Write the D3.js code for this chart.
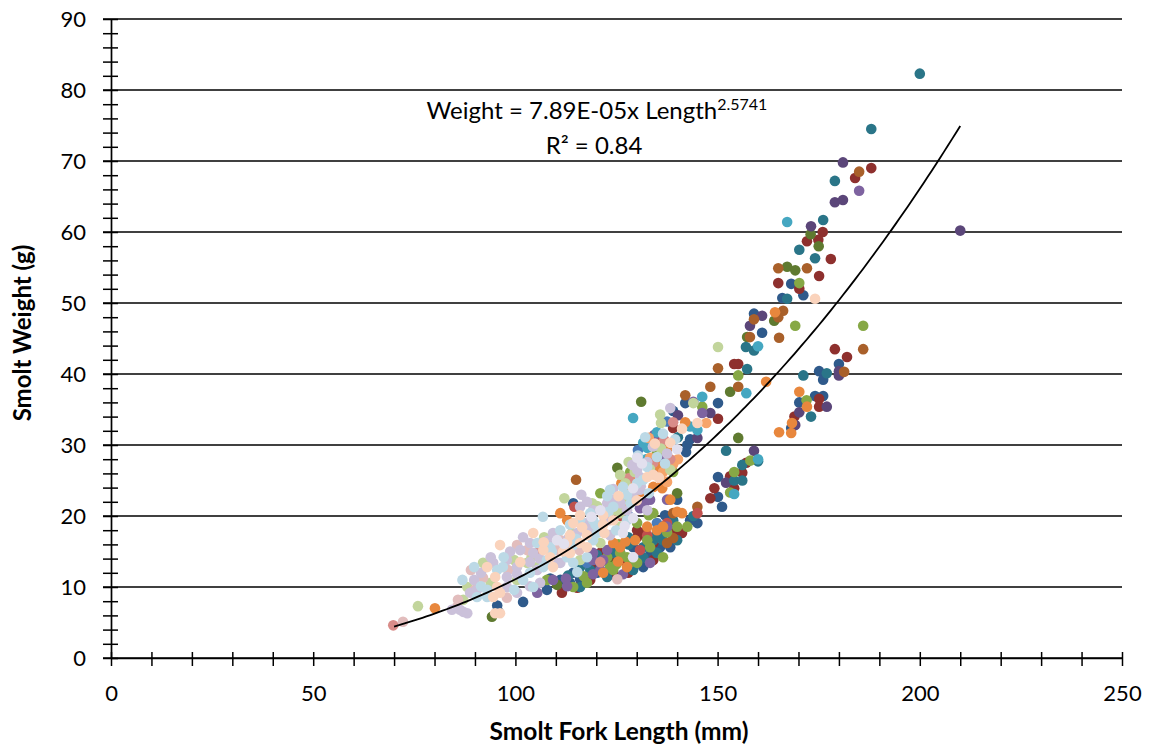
<!DOCTYPE html>
<html><head><meta charset="utf-8">
<script src="https://cdn.jsdelivr.net/npm/d3@7"></script>
<style>
body{margin:0;background:#fff}
svg{display:block}
text{font-family:Lato,"Liberation Sans",sans-serif;fill:#000}
</style>
</head><body>
<svg id="chart" width="1149" height="746"></svg>
<script>
// ---------- data ----------
const xTickLabels=[0,50,100,150,200,250];
const yTickLabels=[0,10,20,30,40,50,60,70,80,90];
const trendCoef=7.89e-5, trendExp=2.5741, trendFrom=70, trendTo=210;
const equationText="Weight = 7.89E-05x Length", equationExp="2.5741", r2Text="R² = 0.84";

const navy=[[168.2,52.7],[171.2,51.1],[166,50.7],[159,48.5],[161,45.8],[180,41.4],[175.1,40.4],[176.1,39.2],[150.1,35.9],[170.2,36],[174.1,36.9],[176.1,36.9],[168.2,32.4],[142,35.9],[139,34.8],[142.5,30],[143.2,30.8],[140,22.3],[145,19],[150.1,25.5],[150.1,22.7],[151.1,21.3],[142.2,29],[114.3,21.8],[137,20.1],[124.2,15.6],[121,13.4],[111.1,11],[101.9,7.9],[95.8,6.5],[95.5,7.4],[108.6,11.2],[107.8,9.6],[123.4,15.2],[114.3,12],[120.2,12],[120.2,12.8],[125.9,14.8],[135.8,15.6],[113.5,10.6],[131.6,12.8],[138.3,15.6],[143.2,19.4],[129.1,15.6],[133.3,14.5],[116,11.1]];
const darkRed=[[188,69],[184,67.6],[176,60],[172.1,58.7],[174.9,58.9],[178,56.2],[175.1,53.8],[165,52.8],[170.2,52],[179,43.5],[182,42.4],[155.1,41.4],[154.1,41.4],[175.1,36.5],[175.1,35.4],[169,34],[150.1,33.7],[139,32.4],[157.1,27.5],[156.1,26.1],[153.1,25.6],[154.1,23.9],[149.2,23.9],[148.2,22.5],[139,17.6],[134.1,16.2],[130.1,17],[121,14.8],[124.2,14.2],[127.6,13.5],[111.5,9.2],[130.1,18],[131.6,17.6],[127.9,12],[132.6,17],[134.1,13.8],[126.6,13.8],[118.5,11],[115.3,9.9],[124.2,11.8],[141.2,17.6],[118.5,13]];
const darkGreen=[[173,59.7],[175,58],[167.2,55.1],[169.2,54.6],[164,47.5],[157.3,45.2],[153.1,37.5],[131.1,36.1],[155.1,31],[125.2,26.8],[140,23.2],[122.7,13.8],[94.2,5.8],[110.3,10.3]];
const darkPurple=[[210,60.2],[181,69.8],[179,64.2],[181,64.5],[173.1,60.8],[161,48.2],[158,46.8],[180,40.4],[180,39.8],[177,35.4],[170.2,34.6],[169.2,32.8],[140.2,34.2],[148.2,34.5],[145,31],[159,29.2],[152.1,24.7]];
const teal=[[200,82.3],[188,74.5],[179,67.2],[176.1,61.7],[170.2,57.5],[174.1,56.3],[167.2,50.6],[157,43.8],[159,43.3],[171.2,39.8],[177,40.1],[157.3,40.7],[173.1,34],[140.2,31.1],[144,20],[152.1,29.2],[160,27.7],[156.1,27.2],[154.1,25],[156.1,25],[135,17.6],[136.5,16.6],[128,16],[118.5,12.4],[113,11.6],[127.9,17],[116,12.8],[131.6,14.2],[134.1,16.6],[135.8,17],[139,19.4],[135,14.8],[116,10],[124.2,14.8],[122.7,11.4],[129.1,12.4],[140,16.6],[131.6,15.6],[120.2,14.5]];
const brown=[[186,43.5],[185,68.5],[165,54.9],[172.1,54.9],[166.2,48.9],[165,48],[159,47.7],[165.2,45.1],[158,45.2],[181.3,40.3],[150.1,40.8],[148.2,38.2],[155.1,38.2],[142,37],[115,25.1],[145,21.3],[139,20.4],[139,16.9],[137.5,16.2]];
const blue=[[130.3,29.3],[135,19],[117.7,13.4],[137.5,33.3],[133.8,26],[128,20]];
const red=[[135.8,30.8],[145,20.4],[137.5,30],[135,26.5],[114.6,21.3],[132.6,17.3],[137.5,19],[130.8,15.2],[126,20]];
const green=[[186,46.8],[170.2,52.8],[169.2,46.8],[155.1,39.8],[172,36.3],[146.2,35.4],[139,26.2],[121,23.2],[133,20.1],[158.1,27.8],[154.1,26.2],[153.1,23.3],[135,29],[134.1,20.4],[130.1,19],[140,18.5],[137.5,17.7],[132.6,16.6],[125.9,14.8],[127.6,14.2],[123.4,12.8],[116.9,11.5],[107.8,11],[125.5,16],[122.7,14.2],[114.3,10],[130.1,13.4],[133.3,15.6],[125,13.2],[124.2,12.4],[117.7,10.6],[136.5,14.2],[142.5,18.5],[128.4,13.5],[128.4,26.2],[131.5,27.5]];
const purple=[[185,65.8],[146.2,34.5],[134.3,31.4],[144,36.1],[136.5,27.9],[137.5,22.3],[130.8,21.1],[131.8,21.8],[133.3,22.3],[137.5,18.5],[122.7,15.2],[119.2,14.8],[119.2,13.8],[121,12.4],[109.3,11],[105.4,9.2],[121.7,13.8],[118.5,14.2],[112.5,11.2],[119.2,11.8],[126.6,11.8],[133.3,13.4],[112.8,10.1],[129.7,23.2]];
const aqua=[[167.2,61.4],[160,43.9],[157.1,37.3],[146.2,36.8],[129.1,33.8],[145,32.1],[135,31.8],[160,28],[154.1,23.1],[132.6,29.6],[143.2,32.6],[131.6,30.3],[132.3,28],[127.4,22.1]];
const orange=[[164.2,48.7],[162,38.9],[170.2,37.5],[172.1,35.4],[165.2,31.8],[168.2,31.7],[168.4,33.1],[142,33.2],[135.8,26.9],[129.6,24.8],[140,20.6],[141.2,20.4],[137.5,29.3],[129.1,25.1],[136.3,24.8],[134.1,24.1],[136.3,23.9],[138.3,22.3],[111.1,20.4],[112.8,19.4],[132.6,18.5],[129.6,16.6],[125.9,15.6],[124.2,16.2],[127.2,16.4],[80.1,7],[125.4,13.6],[135,18],[136.5,18.5],[121.7,12],[127.6,12.8],[126.2,24.6],[131,23.4]];
const lightOrange=[[147.2,33.1],[128.4,24.1],[140.2,28],[139,27.3],[126.6,21.4],[133.3,28.2],[136.5,26.2],[133,31],[137.5,24.8]];
const salmon=[[139,33.2],[136.8,30.7],[138.3,28],[134.1,27.5],[105.4,14.8],[121,13.5],[69.8,4.6],[128,25.3]];
const lightGreen=[[150.1,43.8],[144,35.9],[136,33.1],[128,27.6],[125.9,25.8],[127.2,24.6],[112.1,22.5],[138.3,26.5],[126.6,22.3],[125.9,20.4],[122.7,19.9],[125.9,18.5],[99.7,13.8],[105.4,12.8],[116,13.8],[93.9,10.6],[87.1,8.2],[88.1,10],[75.9,7.3],[102.9,13.4],[121,16.2],[107.1,17],[92,13.4],[100.4,11],[120.2,21.4],[133.3,26.6],[135.8,34.3],[104,14.2],[114,17.6],[119,21.8],[124,20.8],[129.5,26.2],[136,29.5]];
const pink=[[85.8,8.2],[90,9.6],[72.2,5.1],[110.3,15.2],[102.9,15.2],[111.1,16.6],[92,11.3],[97.9,8.5],[85.6,7.2],[125.2,11.1],[100.4,15.9],[89,12.4],[98.2,12.4],[115.8,15.2],[123.2,19.4]];
const lilac=[[130.8,25.5],[116.3,23],[132.6,27.6],[130.1,26.5],[130.8,23.7],[124.2,22.3],[129.1,22.7],[116,21.3],[117.7,22],[119.2,20.8],[122.7,21.8],[127.6,20.8],[132.6,20.8],[117.7,19],[112.8,15.6],[104.4,14.8],[101.2,15.2],[97.9,13.8],[103.6,13.5],[111.1,13.4],[106.1,10.6],[103.6,10.1],[100.4,11.8],[97.9,11.4],[94.5,13.4],[91.5,12],[89.8,11],[97.9,10],[88.8,9.2],[86.3,6.8],[87.1,6.5],[100.4,12.8],[105.4,12.4],[90.5,9.6],[100.4,9.2],[84.3,6.8],[88.1,6.3],[118.5,18.5],[123.4,17.3],[115.3,17.6],[109.3,17.6],[103.6,16.2],[98.7,15],[93.9,14.2],[110.3,13.4],[101.9,17],[124.2,23.8],[137.5,28.8],[138.3,35.2],[106,14],[108,16.5],[113,16.8],[118,17.8],[122,19.2],[126,21.8],[131,24.2],[134,29.8],[128.9,27.2]];
const lightBlue=[[132.1,31.1],[130.3,28.5],[132.6,26.9],[123.4,23.7],[126.6,24.1],[130.1,24.6],[124.2,21.3],[116,19.4],[119.2,19.4],[127.6,19.4],[107.8,13.8],[112.8,14.2],[114.3,13.4],[117.7,14.2],[115.3,12.1],[101.9,11],[96.9,12.8],[91.5,10.1],[99.7,9.6],[90.5,8.6],[106.8,19.9],[108.6,15.6],[106.9,12.8],[93,9.6],[104.4,10],[93,8.6],[120.2,17.6],[124.9,18],[119.2,16.6],[111.1,18],[105.4,16.2],[114.3,15.9],[97.1,14.2],[86.9,11],[89.8,12.8],[95.5,12.4],[103.6,12],[122.7,22.8],[127.6,23],[131.6,25.1],[135,28.3],[136.5,31.6],[118.5,20.4],[113.5,18.8],[109,15],[115,16.8],[119.8,18.8],[123,20.6],[128.5,21.8],[133,23.2],[137,27.4],[139.5,30.8]];
const peach=[[145,33.1],[134.1,25.8],[135.5,25.4],[132.6,25.5],[114.3,19],[124.2,19.4],[117.7,15.6],[116,16.2],[106.9,15.2],[96.2,15.9],[101.2,13.5],[109.3,12.8],[93,12.8],[95.5,10],[96.2,9.2],[94.5,8.6],[95,6.3],[96.2,6.3],[112.8,16.3],[95,11.4],[174.1,50.6],[121.7,18.8],[113.5,17.3],[117.7,17.3],[108.6,14.2],[113.5,14.8],[104.4,17.6],[138.3,30.3],[141.2,32.3],[121.7,20.1],[116,20.1],[107,16.3],[111.8,15],[116.5,18.4],[122,17.6],[125.5,22.8],[130,22.2],[134.5,30.2]];
const whiteLilac=[[140,29.4],[130.1,28.2],[121,20.8],[129.1,19.7],[129.1,14.2],[126.6,17.6],[110.3,16.6],[129.1,23.9],[112,16.1],[118.8,19.9],[127,18.6],[131.3,27.4]];

// draw order & colours
const seriesList=[
 {pts:navy,color:"#2F5A8B"},{pts:darkRed,color:"#8E302E"},{pts:darkGreen,color:"#5F7A30"},
 {pts:darkPurple,color:"#5B4679"},{pts:teal,color:"#2A7588"},{pts:brown,color:"#A9602A"},
 {pts:blue,color:"#4A7CBA"},{pts:red,color:"#C0504D"},{pts:green,color:"#86A845"},
 {pts:purple,color:"#7E63A0"},{pts:aqua,color:"#45A7C1"},{pts:orange,color:"#E8873D"},
 {pts:lightOrange,color:"#F6A46A"},{pts:salmon,color:"#D98C89"},{pts:lightGreen,color:"#C2D59C"},
 {pts:pink,color:"#E2BDBD"},{pts:lilac,color:"#CBC1DA"},{pts:lightBlue,color:"#BCD9E6"},
 {pts:peach,color:"#FAD3BC"},{pts:whiteLilac,color:"#E2E0EE"}
];

// ---------- chart ----------
const svg=d3.select("#chart");
const x=d3.scaleLinear().domain([0,250]).range([111,1122]);
const y=d3.scaleLinear().domain([0,90]).range([658,19]);

// gridlines
svg.append("g").selectAll("line").data(yTickLabels).join("line")
  .attr("x1",103).attr("x2",1122).attr("y1",d=>y(d)).attr("y2",d=>y(d))
  .attr("stroke","#000").attr("stroke-width",1.7);

// x axis
const xAxis=svg.append("g").attr("transform","translate(0,658)")
  .call(d3.axisBottom(x).tickValues(d3.range(0,251,10)).tickSize(8).tickSizeOuter(0)
     .tickFormat(d=>xTickLabels.includes(d)?d:""));
xAxis.select(".domain").attr("stroke","#000").attr("stroke-width",1.7);
xAxis.selectAll(".tick line").attr("y1",-6).attr("y2",8).attr("stroke","#000").attr("stroke-width",1.5);
xAxis.selectAll(".tick text").attr("y",43).attr("dy",0).style("font-size","22px").style("font-family","Lato");

// y axis
const yAxis=svg.append("g").attr("transform","translate(111,0)")
  .call(d3.axisLeft(y).tickValues(d3.range(0,91,2)).tickSize(8).tickSizeOuter(0)
     .tickFormat(d=>yTickLabels.includes(d)?d:""));
yAxis.select(".domain").attr("stroke","#000").attr("stroke-width",1.7);
yAxis.selectAll(".tick line").attr("x1",7).attr("x2",-8).attr("stroke","#000").attr("stroke-width",1.5);
yAxis.selectAll(".tick text").attr("x",-25).attr("dy","0.36em").style("font-size","22px").style("font-family","Lato");

// points
const dots=svg.append("g");
seriesList.forEach(s=>{
  dots.append("g").selectAll("circle").data(s.pts).join("circle")
    .attr("cx",d=>x(d[0])).attr("cy",d=>y(d[1])).attr("r",5.3).attr("fill",s.color);
});

// trendline
const trendX=d3.range(trendFrom,trendTo+0.001,1);
svg.append("path").datum(trendX)
  .attr("d",d3.line().x(d=>x(d)).y(d=>y(trendCoef*Math.pow(d,trendExp))))
  .attr("fill","none").attr("stroke","#000").attr("stroke-width",1.8);

// equation
const eq=svg.append("text").attr("x",597).attr("y",119).attr("text-anchor","middle").style("font-size","24px");
eq.append("tspan").text(equationText);
eq.append("tspan").attr("dy",-9).style("font-size","16px").text(equationExp);
svg.append("text").attr("x",594).attr("y",154).attr("text-anchor","middle").style("font-size","24px").text(r2Text);

// axis titles
svg.append("text").attr("x",619).attr("y",740).attr("text-anchor","middle")
  .style("font-size","24.5px").style("font-weight","bold").text("Smolt Fork Length (mm)");
svg.append("text").attr("transform","translate(31,333) rotate(-90)").attr("text-anchor","middle")
  .style("font-size","24px").style("font-weight","bold").text("Smolt Weight (g)");
</script>
</body></html>
